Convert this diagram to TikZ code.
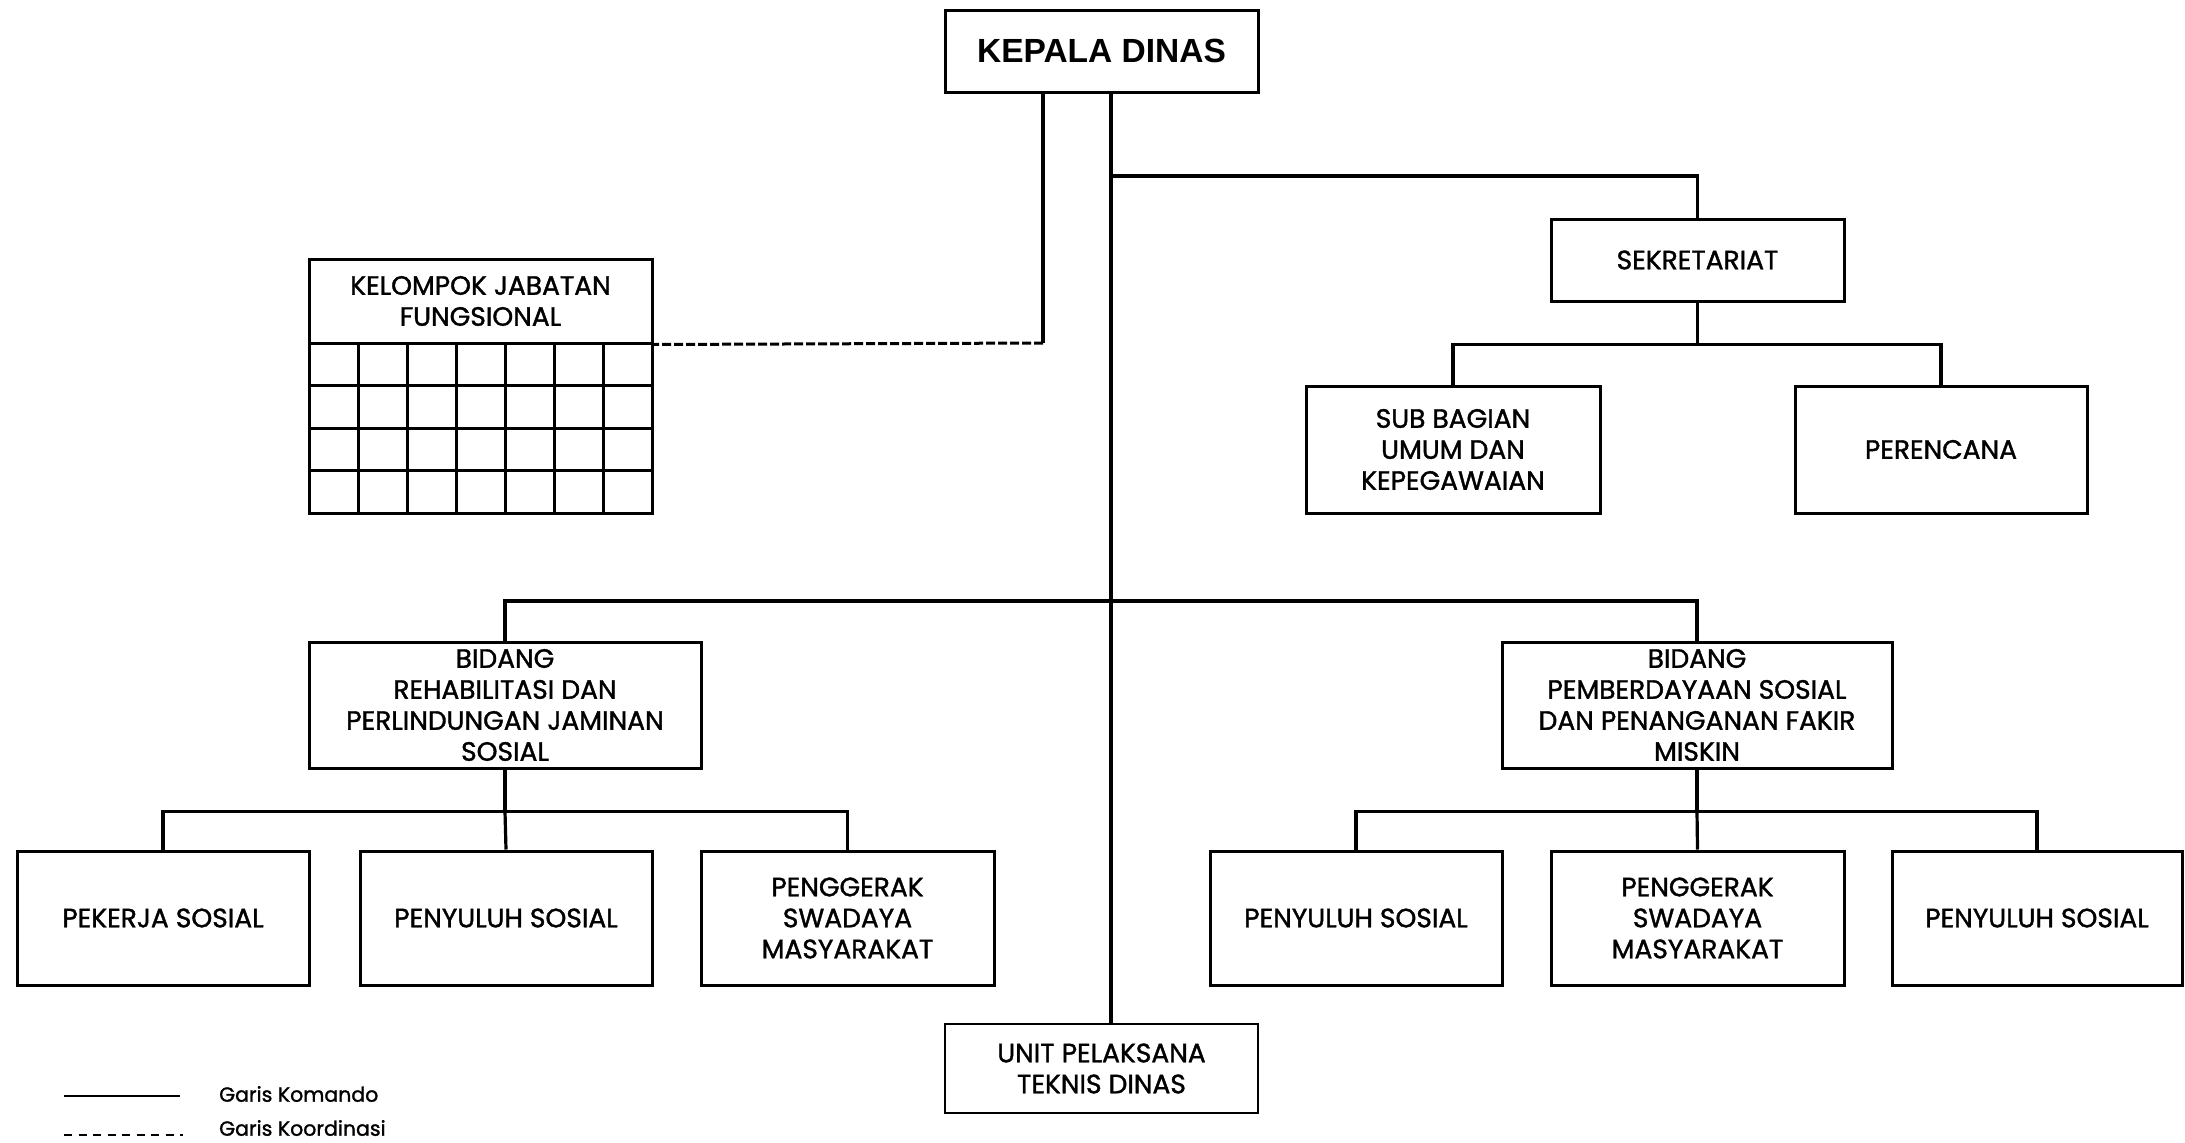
\documentclass[tikz,border=0pt]{standalone}
\usepackage{fontspec}
\setmainfont{Poppins}[FakeBold=1.4]
\newfontfamily\headfont{Liberation Sans}
\newcommand\orgfont{\fontsize{26.5}{31}\selectfont}
\newcommand\legfont{\fontsize{20.5}{24}\selectfont}
\begin{document}
\begin{tikzpicture}[x=1pt,y=-1pt,
  box/.style={draw, line width=3pt, inner sep=0pt, align=center, font=\orgfont},
  thinbox/.style={box, line width=1.6pt},
  conn/.style={line width=3.2pt},
  coordline/.style={line width=3pt, dash pattern=on 9pt off 3pt},
  legline/.style={line width=1.8pt},
  legdash/.style={line width=1.8pt, dash pattern=on 8pt off 6.5pt},
]
\useasboundingbox (0,0) rectangle (2185,1143);

% top
\node[box, minimum width=313pt, minimum height=82pt, font=\headfont\bfseries\fontsize{33.5}{40}\selectfont] (kepala) at (1101.5,51) {KEPALA DINAS};
\node[thinbox, minimum width=313pt, minimum height=89pt] (upt) at (1101.5,1068.5) {UNIT PELAKSANA\\TEKNIS DINAS};

% sekretariat branch
\node[box, minimum width=293pt, minimum height=82pt] (sek) at (1697.5,260) {SEKRETARIAT};
\node[box, minimum width=294pt, minimum height=127pt] (sub) at (1453,449.5) {SUB BAGIAN\\UMUM DAN\\KEPEGAWAIAN};
\node[box, minimum width=292pt, minimum height=127pt] (per) at (1941,449.5) {PERENCANA};

% kelompok jabatan fungsional
\node[box, minimum width=343pt, minimum height=84pt] (kjf) at (480.5,301) {KELOMPOK JABATAN\\FUNGSIONAL};
\coordinate (gridnw) at (309,343);
\coordinate (gridse) at (652,513);
\draw[line width=3pt] (gridnw) rectangle (gridse);
\foreach \i in {1,...,6} \draw[line width=3pt] (309+49*\i,343) -- (309+49*\i,513);
\foreach \j in {385.5,428,470.5} \draw[line width=3pt] (309,\j) -- (652,\j);

% bidang
\node[box, minimum width=392pt, minimum height=126pt] (bidL) at (505,705) {BIDANG\\REHABILITASI DAN\\PERLINDUNGAN JAMINAN\\SOSIAL};
\node[box, minimum width=390pt, minimum height=126pt] (bidR) at (1697,705) {BIDANG\\PEMBERDAYAAN SOSIAL\\DAN PENANGANAN FAKIR\\MISKIN};

% children
\node[box, minimum width=292pt, minimum height=134pt] (c1) at (163,918) {PEKERJA SOSIAL};
\node[box, minimum width=292pt, minimum height=134pt] (c2) at (506,918) {PENYULUH SOSIAL};
\node[box, minimum width=293pt, minimum height=134pt] (c3) at (847.5,918) {PENGGERAK\\SWADAYA\\MASYARAKAT};
\node[box, minimum width=292pt, minimum height=134pt] (c4) at (1356,918) {PENYULUH SOSIAL};
\node[box, minimum width=293pt, minimum height=134pt] (c5) at (1697.5,918) {PENGGERAK\\SWADAYA\\MASYARAKAT};
\node[box, minimum width=290pt, minimum height=134pt] (c6) at (2037,918) {PENYULUH SOSIAL};

% connectors
\coordinate (mainx) at (1111,0);
\coordinate (j1) at (1111,176);
\coordinate (j2) at (1111,601);
\coordinate (kjfjoin) at (1043,343);
\draw[conn] (kepala.south -| mainx) -- (upt.north -| mainx);
\draw[conn] (kepala.south -| kjfjoin) -- (kjfjoin);
\draw[coordline] (kjfjoin) -- (kjf.south east);
\draw[conn] (j1) -| (sek.north);
\draw[conn] (sek.south) -- ++(0,42) coordinate (sekj);
\draw[conn] (sub.north) |- (sekj) -| (per.north);
\draw[conn] (bidL.north) |- (j2) -| (bidR.north);
\draw[conn] (bidL.south) -- ++(0,42) coordinate (bLj);
\draw[conn] (c1.north) |- (bLj) -| (c3.north);
\draw[conn] (bLj) -- (c2.north);
\draw[conn] (bidR.south) -- ++(0,42) coordinate (bRj);
\draw[conn] (c4.north) |- (bRj) -| (c6.north);
\draw[conn] (bRj) -- (c5.north);

% legend
\coordinate (l1a) at (64,1096);
\coordinate (l1b) at (180,1096);
\coordinate (l2a) at (64,1135);
\coordinate (l2b) at (183,1135);
\draw[legline] (l1a) -- (l1b);
\draw[legdash] (l2a) -- (l2b);
\node[anchor=west, inner sep=0pt, font=\legfont] (leg1) at (219,1094) {Garis Komando};
\node[anchor=west, inner sep=0pt, font=\legfont] (leg2) at (219,1128) {Garis Koordinasi};
\end{tikzpicture}
\end{document}
